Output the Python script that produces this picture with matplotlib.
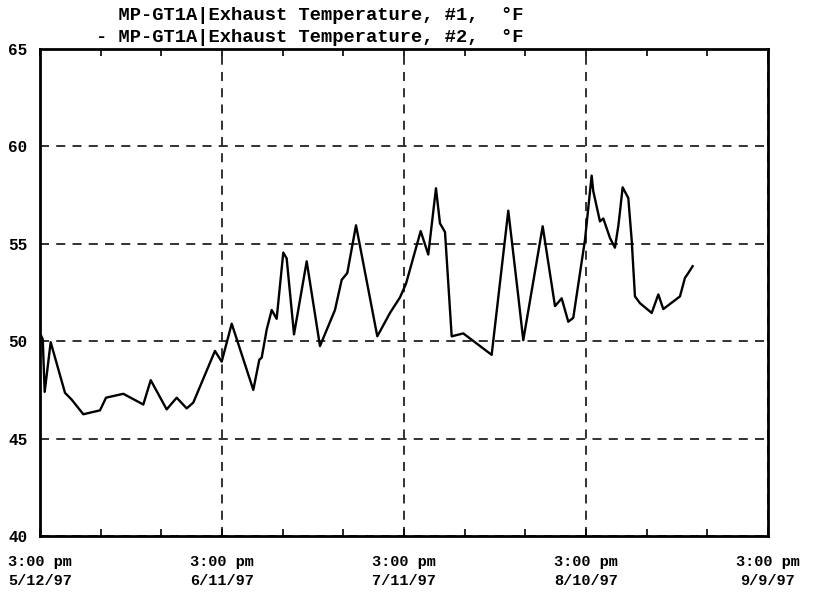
import numpy as np
import pandas as pd
import matplotlib
matplotlib.use("Agg")
import matplotlib.pyplot as plt

plt.rcParams['font.family'] = ['Liberation Mono', 'DejaVu Sans Mono']
plt.rcParams['font.weight'] = 'bold'

# exhaust temperature trend, days after 5/12/97 3:00 pm
days = [0.0, 0.16, 0.45, 0.77, 1.76, 4.12, 5.22, 7.14, 9.89, 10.88, 13.73,
        17.03, 18.25, 20.88, 22.53, 24.18, 25.27, 28.84, 29.95, 31.6, 35.16,
        36.15, 36.54, 37.37, 38.19, 39.01, 40.1, 40.66, 41.87, 43.96, 46.15,
        48.62, 49.73, 50.65, 52.09, 55.6, 57.69, 59.34, 60.33, 62.75, 64.0,
        65.27, 65.93, 66.76, 67.86, 69.77, 74.45, 77.19, 78.84, 79.66, 82.86,
        84.89, 85.99, 87.08, 87.9, 89.83, 90.93, 91.2, 92.3, 92.85, 93.95,
        94.77, 95.32, 95.6, 96.04, 96.97, 97.53, 98.07, 98.9, 100.83, 101.92,
        102.74, 105.49, 106.31, 106.86, 107.58]
temp_f = [50.2, 50.3, 50.1, 47.4, 49.95, 47.35, 47.0, 46.25, 46.45, 47.1, 47.3,
          46.75, 48.0, 46.5, 47.1, 46.55, 46.85, 49.5, 48.95, 50.9, 47.5,
          49.05, 49.15, 50.6, 51.6, 51.15, 54.55, 54.25, 50.35, 54.1, 49.75,
          51.6, 53.15, 53.5, 55.95, 50.25, 51.45, 52.25, 52.95, 55.65, 54.45,
          57.85, 56.05, 55.6, 50.25, 50.4, 49.3, 56.7, 52.3, 50.05, 55.9,
          51.8, 52.2, 51.0, 51.2, 55.2, 58.5, 57.7, 56.15, 56.3, 55.3,
          54.8, 55.9, 56.65, 57.9, 57.35, 55.2, 52.3, 51.95, 51.45, 52.4,
          51.65, 52.3, 53.25, 53.5, 53.85]

start = pd.Timestamp("1997-05-12 15:00")
end = pd.Timestamp("1997-09-09 15:00")
tick_dates = pd.date_range(start, end, freq="30D")
tick_labels = ["3:00 pm\n5/12/97", "3:00 pm\n6/11/97", "3:00 pm\n7/11/97",
               "3:00 pm\n8/10/97", "3:00 pm\n9/9/97"]
series_names = ["  MP-GT1A|Exhaust Temperature, #1,  \u00b0F",
                "- MP-GT1A|Exhaust Temperature, #2,  \u00b0F"]

times = start + pd.to_timedelta(days, unit="D")

W, H = 817, 592
fig = plt.figure(figsize=(W / 100, H / 100), dpi=100)
ax = fig.add_axes([40 / W, 1 - 536 / H, 728 / W, 487 / H])

ax.plot(times, temp_f, color='black', lw=1.7, zorder=3)

ax.set_xlim(start, end)
ax.set_ylim(40, 65)
ax.set_yticks(np.arange(40, 66, 5))
ax.set_xticks(tick_dates)
ax.set_xticklabels(tick_labels, linespacing=1.45)
ax.set_xticks(pd.date_range(start, end, freq="10D"), minor=True)

ax.grid(True, which='major', color='#222222', ls=(0, (5, 4)), lw=1.3)
ax.tick_params(axis='y', length=0, pad=9, labelsize=11.5)
ax.tick_params(axis='x', which='both', direction='in', top=True, length=5,
               width=1.2, labelsize=11, pad=14)
for sp in ax.spines.values():
    sp.set_linewidth(2)

for i, name in enumerate(series_names):
    fig.text(96 / W, 1 - (16 + 22 * i) / H, name, ha='left', va='center',
             fontsize=13.5)

fig.savefig("out.png", dpi=100)
